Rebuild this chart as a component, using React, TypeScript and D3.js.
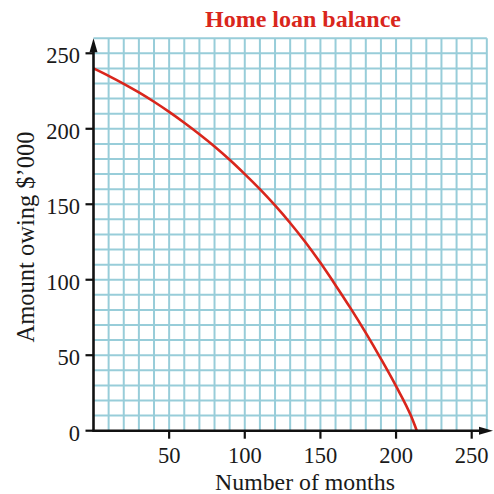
import React from "react";
import * as d3 from "d3";

const title = "Home loan balance";
const xLabel = "Number of months";
const yLabel = "Amount owing $’000";
const xTicks = [50, 100, 150, 200, 250];
const yTicks = [0, 50, 100, 150, 200, 250];
const months = [0, 10, 20, 30, 40, 50, 60, 70, 80, 90, 100, 110, 120, 130, 140, 150, 160, 170, 180, 190, 200, 210, 213.7];
const balance = [240, 235.1, 229.8, 224.1, 217.9, 211.2, 204, 196.4, 188.3, 179.5, 170, 160, 149.2, 137.6, 125, 111.2, 96.4, 81, 64.8, 47.6, 29.5, 9.5, 0];

const W = 494;
const H = 494;
const FONT = "'Liberation Serif', 'Times New Roman', Times, serif";
const GRID = "#98cdd9";
const RED = "#d9261c";

export default function App() {
  const x = d3.scaleLinear().domain([0, 260]).range([93.5, 93.5 + 260 * 1.5128]);
  const y = d3.scaleLinear().domain([0, 260]).range([430.7, 430.7 - 260 * 1.5096]);
  const gridVals = d3.range(10, 261, 10);
  const gridH = d3.range(10, 261, 10);
  const line = d3
    .line<number>()
    .x((_, i) => x(months[i]))
    .y((d) => y(d))
    .curve(d3.curveMonotoneX);
  const x0 = x(0);
  const y0 = y(0);
  const yTop = y(260);
  const xEnd = 493;
  return (
    <svg width={W} height={H} style={{ position: "absolute", left: 0, top: 0 }}>
      <rect x={0} y={0} width={W} height={H} fill="#fff" />
      {gridVals.map((v) => (
        <line key={"gv" + v} x1={x(v)} x2={x(v)} y1={y0} y2={yTop} stroke={GRID} strokeWidth={2} />
      ))}
      {gridH.map((v) => (
        <line key={"gh" + v} x1={x0} x2={x(260)} y1={y(v)} y2={y(v)} stroke={GRID} strokeWidth={2} />
      ))}
      <path d={line(balance) || ""} fill="none" stroke={RED} strokeWidth={2.6} />
      <line x1={x0} x2={x0} y1={y0 + 1} y2={yTop + 10} stroke="#111" strokeWidth={2.6} />
      <path d={`M${x0},${yTop} L${x0 - 4},${yTop + 14} L${x0 + 4},${yTop + 14} Z`} fill="#111" />
      <line x1={x0 - 1} x2={xEnd - 10} y1={y0} y2={y0} stroke="#111" strokeWidth={2.6} />
      <path d={`M${xEnd},${y0} L${xEnd - 14},${y0 - 4} L${xEnd - 14},${y0 + 4} Z`} fill="#111" />
      {yTicks.map((v) => (
        <g key={"yt" + v}>
          <line x1={x0 - 8} x2={x0} y1={y(v)} y2={y(v)} stroke="#111" strokeWidth={2.2} />
          <text x={80} y={y(v) + 10} textAnchor="end" fontFamily={FONT} fontSize={22.5} fill="#1a1a1a">
            {v}
          </text>
        </g>
      ))}
      {xTicks.map((v) => (
        <g key={"xt" + v}>
          <line x1={x(v)} x2={x(v)} y1={y0} y2={y0 + 8} stroke="#111" strokeWidth={2.2} />
          <text x={x(v)} y={462.5} textAnchor="middle" fontFamily={FONT} fontSize={22.5} fill="#1a1a1a">
            {v}
          </text>
        </g>
      ))}
      <text x={303} y={27} textAnchor="middle" fontFamily={FONT} fontSize={24} fontWeight="bold" fill={RED}>
        {title}
      </text>
      <text x={305} y={490} textAnchor="middle" fontFamily={FONT} fontSize={23.8} fill="#1a1a1a">
        {xLabel}
      </text>
      <text
        transform={`translate(34,237) rotate(-90)`}
        textAnchor="middle"
        fontFamily={FONT}
        fontSize={24.5}
        fill="#1a1a1a"
      >
        {yLabel}
      </text>
    </svg>
  );
}
